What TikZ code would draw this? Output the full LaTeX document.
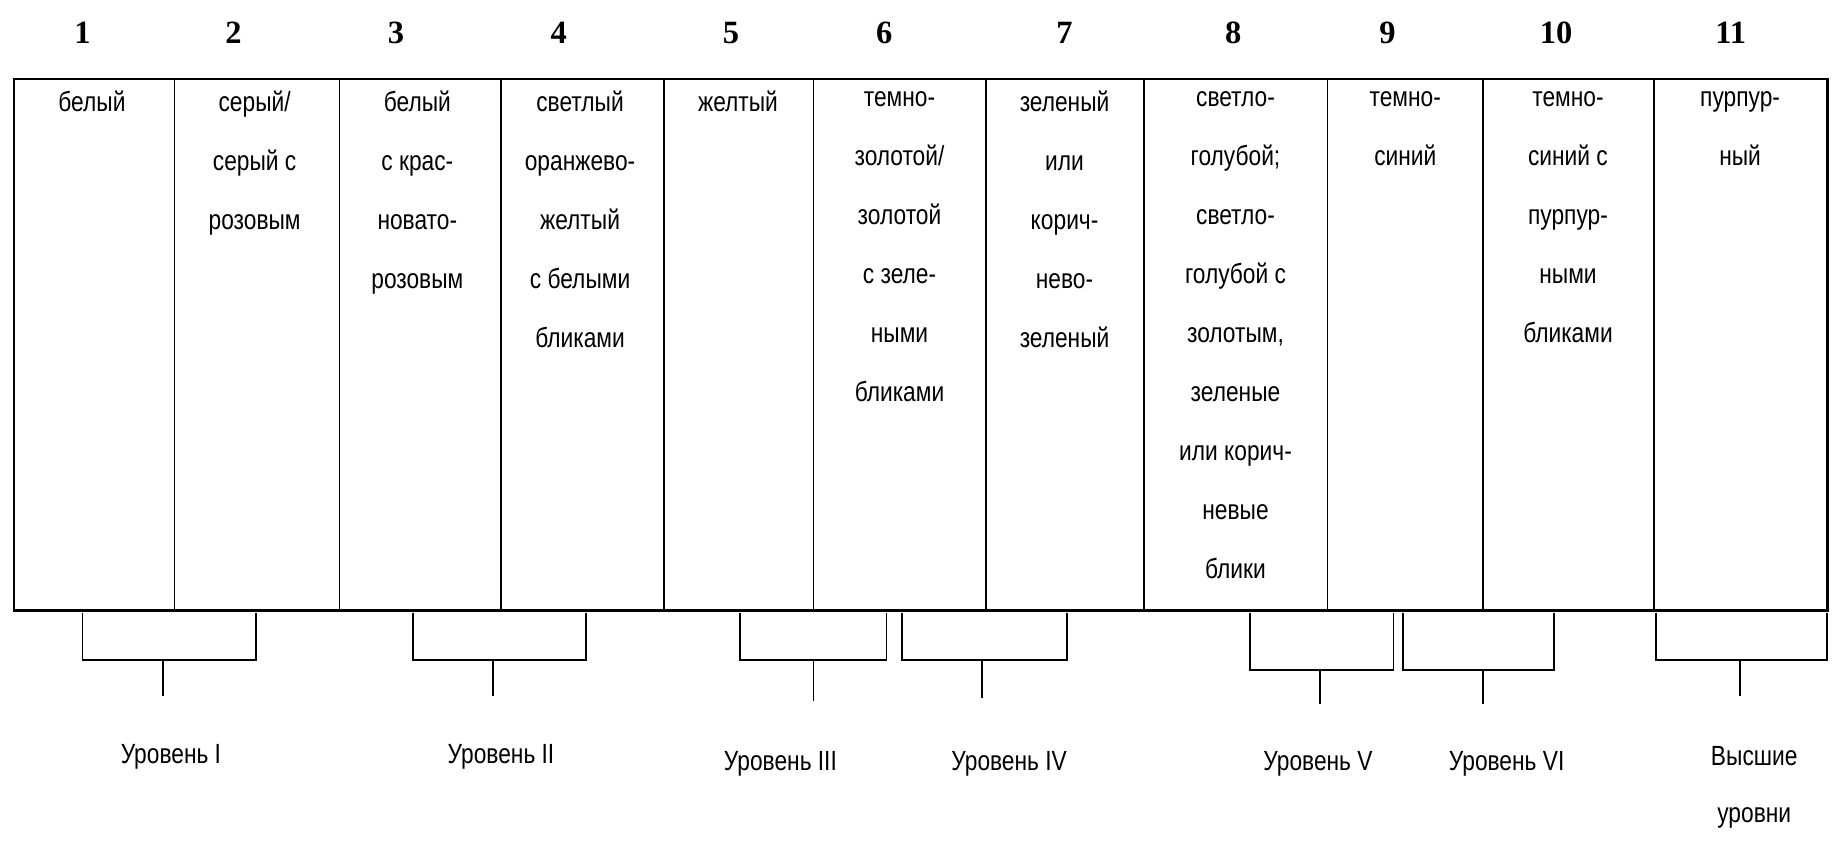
\documentclass[tikz,border=0pt]{standalone}
\usepackage{fontspec}
\setmainfont{Liberation Serif}
\newfontfamily\cellfont[FakeStretch=0.82]{Liberation Sans}
\begin{document}
\begin{tikzpicture}[x=0.4716pt,y=-0.4716pt,
  cell/.style={anchor=north,align=center,font=\cellfont\fontsize{11.1}{23.6}\selectfont,inner sep=0pt},
  num/.style={font=\bfseries\fontsize{13}{14}\selectfont},
  lev/.style={align=center,font=\cellfont\fontsize{11.1}{23}\selectfont,inner sep=0pt},
  ln/.style={line width=0.75pt}]
\useasboundingbox (0,0) rectangle (1565,717);
\draw[line width=1pt] (12,67) rectangle (1550,518);
\foreach \x in {148,288,425,563,690,836,970,1126,1258,1403}
  \draw[ln] (\x,67) -- (\x,518);
\foreach \n/\x in {1/70,2/198,3/336,4/474,5/620,6/750,7/903,8/1046,9/1177,10/1320,11/1468}
  \node[num] (n\n) at (\x,28) {\n};
\node[cell] (c1) at (78,77) {белый};
\node[cell] (c2) at (216,77) {серый/\\серый с\\розовым};
\node[cell] (c3) at (354,77) {белый\\с крас-\\новато-\\розовым};
\node[cell] (c4) at (492,77) {светлый\\оранжево-\\желтый\\с белыми\\бликами};
\node[cell] (c5) at (626,77) {желтый};
\node[cell] (c6) at (763,77) {темно-\\золотой/\\золотой\\с зеле-\\ными\\бликами};
\node[cell] (c7) at (903,77) {зеленый\\или\\корич-\\нево-\\зеленый};
\node[cell] (c8) at (1048,77) {светло-\\голубой;\\светло-\\голубой с\\золотым,\\зеленые\\или корич-\\невые\\блики};
\node[cell] (c9) at (1192,77) {темно-\\синий};
\node[cell] (c10) at (1330,77) {темно-\\синий с\\пурпур-\\ными\\бликами};
\node[cell] (c11) at (1476,77) {пурпур-\\ный};
\foreach \a/\b/\bot/\s/\e in {70/217/560/138/590, 350/497/560/418/590, 628/752/560/690/595, 765/905/560/833/592, 1060/1182/568/1120/597, 1190/1318/568/1258/597, 1405/1550/560/1476/590}{
  \draw[ln] (\a,520) -- (\a,\bot) -- (\b,\bot) -- (\b,520);
  \draw[ln] (\s,\bot) -- (\s,\e);
}
\node[lev] (l1) at (145,642) {Уровень I};
\node[lev] (l2) at (425,642) {Уровень II};
\node[lev] (l3) at (662,648) {Уровень III};
\node[lev] (l4) at (856,648) {Уровень IV};
\node[lev] (l5) at (1118,648) {Уровень V};
\node[lev] (l6) at (1278,648) {Уровень VI};
\node[lev] (l7) at (1488,668) {Высшие\\уровни};
\end{tikzpicture}
\end{document}
